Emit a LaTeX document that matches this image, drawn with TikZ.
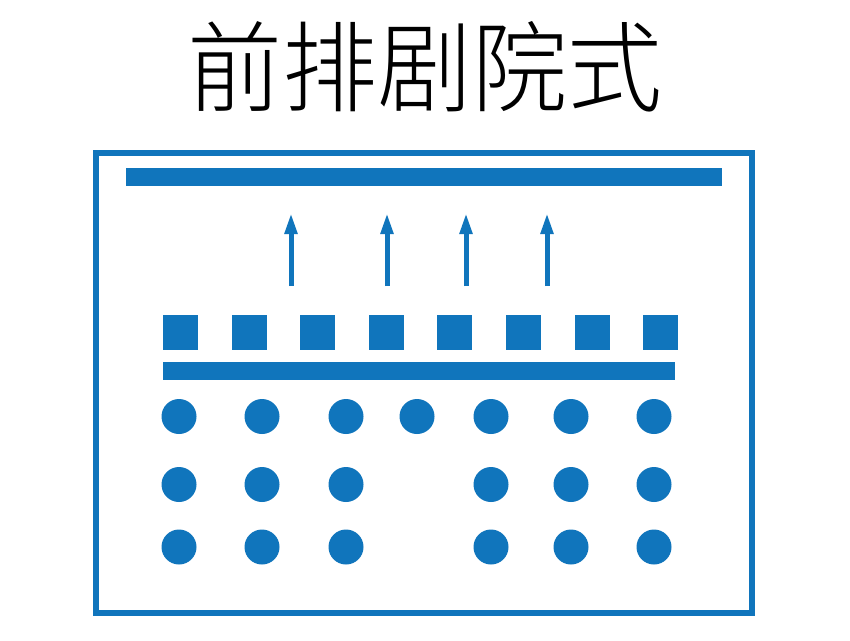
\documentclass[tikz,border=0pt]{standalone}
\usepackage{fontspec}
\IfFontExistsTF{Noto Sans CJK SC Light}
  {\newfontfamily\cjk{Noto Sans CJK SC Light}}
  {\newfontfamily\cjk{Noto Sans CJK SC}}
\usetikzlibrary{arrows.meta}
\definecolor{seatblue}{RGB}{16,117,188}
\begin{document}
\begin{tikzpicture}[x=1pt,y=-1pt,
  bar/.style={fill=seatblue,draw=none,inner sep=0pt,outer sep=0pt},
  seat/.style={fill=seatblue,draw=none,minimum size=35pt,inner sep=0pt},
  person/.style={circle,fill=seatblue,draw=none,minimum size=35pt,inner sep=0pt},
  dirarrow/.style={draw=seatblue,line width=5pt,-{Triangle[width=12pt,length=21pt]}}]
\useasboundingbox (0,0) rectangle (850,640);
\fill[white] (0,0) rectangle (850,640);
\node[font=\cjk\fontsize{95}{100}\selectfont,inner sep=0pt,yscale=1.04] (title) at (425,67) {前排剧院式};
\node[draw=seatblue,line width=6pt,minimum width=656pt,minimum height=460pt,inner sep=0pt] (frame) at (424,382.5) {};
\node[bar,minimum width=596pt,minimum height=18pt] (stage) at (424,177) {};
\foreach \i/\x in {1/291,2/387,3/466,4/547}{
  \coordinate (b\i) at (\x,286);
  \coordinate (t\i) at (\x,213);
  \draw[dirarrow] (b\i) -- (t\i);
}
\foreach \i in {0,...,7}{
  \node[seat] (s\i) at ({180.5+68.6*\i},332) {};
}
\node[bar,minimum width=512pt,minimum height=18pt] (front) at (419,371) {};
\foreach \x [count=\i] in {179,262,346,417,491,571,654}{
  \node[person] (p1\i) at (\x,416.5) {};
}
\foreach \x [count=\i] in {179,262,346,491,571,654}{
  \node[person] (p2\i) at (\x,484.5) {};
  \node[person] (p3\i) at (\x,547) {};
}
\end{tikzpicture}
\end{document}
